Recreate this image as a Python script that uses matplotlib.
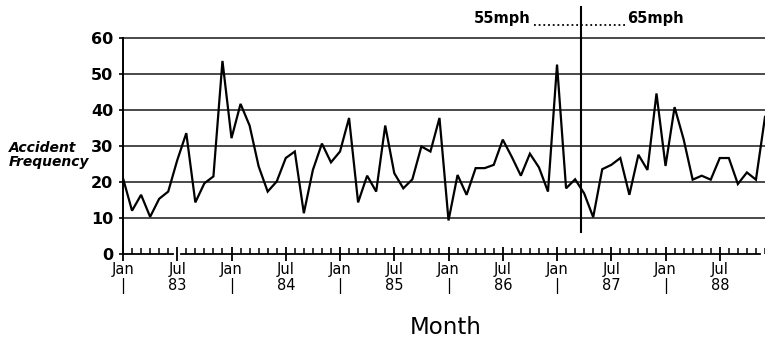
import matplotlib
matplotlib.use("Agg")
import matplotlib.pyplot as plt
import numpy as np

# ---------------- data (monthly, Jan 1983 - Dec 1988) ----------------
acc_1983 = [21.0, 12.0, 16.4, 10.3, 15.3, 17.3, 26.0, 33.5, 14.3, 19.6, 21.5, 53.5]
acc_1984 = [32.1, 41.6, 35.6, 24.3, 17.3, 20.1, 26.6, 28.4, 11.3, 23.3, 30.6, 25.4]
acc_1985 = [28.4, 37.7, 14.3, 21.7, 17.3, 35.6, 22.4, 18.2, 20.7, 29.8, 28.4, 37.7]
acc_1986 = [9.3, 21.9, 16.4, 23.8, 23.8, 24.7, 31.7, 26.9, 21.7, 27.8, 24.0, 17.3]
acc_1987 = [52.5, 18.2, 20.7, 16.8, 10.2, 23.5, 24.7, 26.6, 16.4, 27.5, 23.3, 44.5]
acc_1988 = [24.4, 40.7, 31.8, 20.6, 21.7, 20.6, 26.6, 26.6, 19.4, 22.6, 20.6, 38.0]
values = acc_1983 + acc_1984 + acc_1985 + acc_1986 + acc_1987 + acc_1988
months = np.arange(len(values))

years = ["83", "84", "85", "86", "87", "88"]
y_ticks = [0, 10, 20, 30, 40, 50, 60]
speed_change = 50.66          # month index of the 55 -> 65 mph change (Apr 1987)
labels_speed = ["55mph", "65mph"]

# ---------------- figure ----------------
W, H = 765, 343
fig = plt.figure(figsize=(W / 100, H / 100), dpi=100)
x0, x1, ybase, ytop = 123, 765, 254, 37.5
ax = fig.add_axes([x0 / W, (H - ybase) / H, (x1 - x0) / W, (ybase - ytop) / H])
px_per_month = 9.12
ax.set_xlim(0, (x1 - x0) / px_per_month)
ax.set_ylim(0, 60)

for s in ["top", "right", "bottom"]:
    ax.spines[s].set_visible(False)
ax.spines["left"].set_linewidth(1.4)
ax.spines["left"].set_color("black")

# gridlines
for v in y_ticks[1:]:
    ax.axhline(v, color="#3c3c3c", lw=1.3, clip_on=False, zorder=1)

# baseline with a small break near Jul 83
xmax = ax.get_xlim()[1]
ax.plot([0, 5.55], [0, 0], color="black", lw=1.3, clip_on=False, zorder=2)
ax.plot([6.45, xmax], [0, 0], color="black", lw=1.3, clip_on=False, zorder=2)

# data line
ax.plot(months, values, color="black", lw=1.6, solid_joinstyle="miter", zorder=3)

# speed-limit change marker
ax.plot([speed_change, speed_change], [6.1, 68.5], color="black", lw=1.5,
        clip_on=False, zorder=4)
ax.plot([45.5, 55.5], [63.5, 63.5], color="black", lw=1.3, ls=(0, (1, 1.6)),
        clip_on=False)
ax.text(45.1, 65.3, labels_speed[0], ha="right", va="center", fontsize=10.5,
        fontweight="bold")
ax.text(55.8, 65.3, labels_speed[1], ha="left", va="center", fontsize=10.5,
        fontweight="bold")

# y axis
ax.set_yticks(y_ticks)
ax.set_yticklabels([str(v) for v in y_ticks], fontsize=11.5, fontweight="bold")
ax.tick_params(axis="y", length=3, width=1.2, pad=4, colors="black")

# x axis
major = list(range(0, 72, 6))
xlabels = []
for i in major:
    if i % 12 == 0:
        xlabels.append("Jan\n|")
    else:
        xlabels.append("Jul\n" + years[i // 12])
ax.set_xticks(major)
ax.set_xticklabels(xlabels, fontsize=10.5, linespacing=1.08)
ax.set_xticks(months, minor=True)
ax.tick_params(axis="x", which="major", direction="inout", length=10, width=1.3,
               pad=0.5, colors="black")
ax.tick_params(axis="x", which="minor", direction="in", length=4, width=1.1,
               colors="black")

# axis titles
fig.text(446 / W, 1 - 327 / H, "Month", ha="center", va="center", fontsize=16.5)
fig.text(9 / W, 1 - 166 / H, "Accident\nFrequency", ha="left", va="baseline",
         fontsize=10, fontweight="bold", fontstyle="italic", linespacing=1.0)

fig.savefig("out.png", dpi=100)
